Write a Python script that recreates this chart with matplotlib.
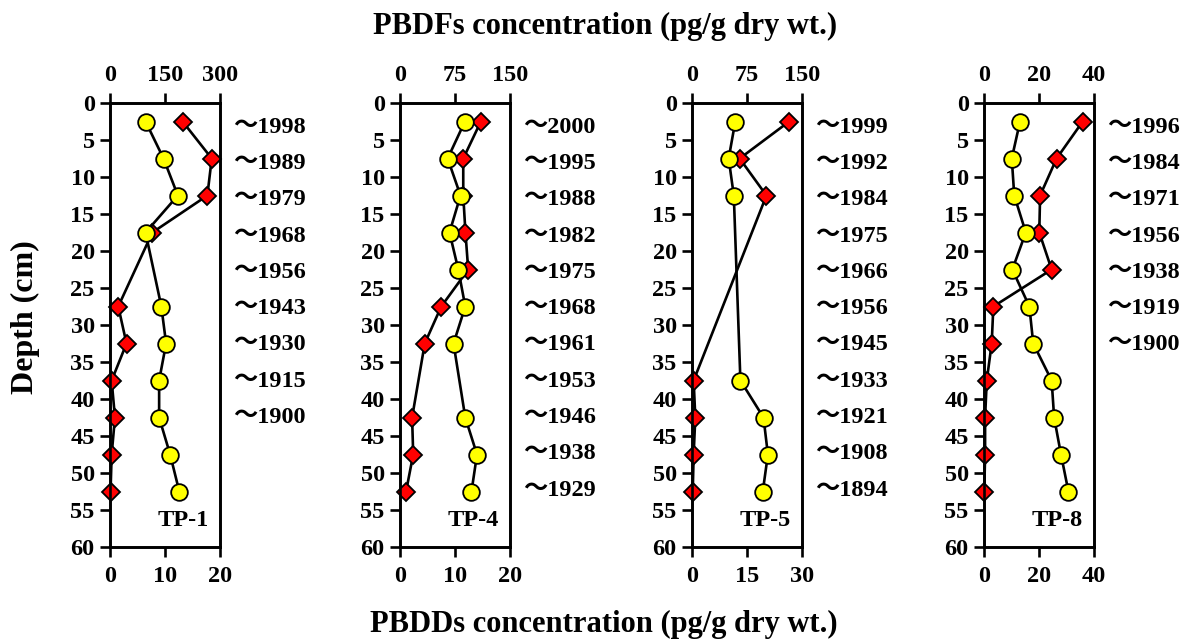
import matplotlib
matplotlib.use("Agg")
import matplotlib.pyplot as plt

plt.rcParams["font.family"] = ["Liberation Serif", "Noto Sans CJK JP"]
plt.rcParams["font.weight"] = "bold"

# ---- data (depth in cm, PBDDs on bottom axis, PBDFs on top axis) ----
tp1_depth = [2.5, 7.5, 12.5, 17.5, 27.5, 32.5, 37.5, 42.5, 47.5, 52.5]
tp1_pbdd = [13.2, 18.5, 17.7, 7.7, 1.5, 3.0, 0.3, 0.9, 0.3, 0.1]
tp1_pbdf = [97, 146, 185, 97, 140, 153, 134, 134, 164, 189]
tp1_years = [1998, 1989, 1979, 1968, 1956, 1943, 1930, 1915, 1900]

tp4_depth = [2.5, 7.5, 12.5, 17.5, 22.5, 27.5, 32.5, 42.5, 47.5, 52.5]
tp4_pbdd = [14.7, 11.5, 11.5, 11.9, 12.4, 7.5, 4.5, 2.2, 2.4, 1.1]
tp4_pbdf = [88.5, 65, 82.5, 67.5, 79.5, 89, 73, 89, 105, 97.5]
tp4_years = [2000, 1995, 1988, 1982, 1975, 1968, 1961, 1953, 1946, 1938, 1929]

tp5_depth = [2.5, 7.5, 12.5, 37.5, 42.5, 47.5, 52.5]
tp5_pbdd = [26.5, 13.0, 20.3, 0.45, 0.9, 0.45, 0.2]
tp5_pbdf = [59, 50, 57, 66, 97.5, 103.5, 96.5]
tp5_years = [1999, 1992, 1984, 1975, 1966, 1956, 1945, 1933, 1921, 1908, 1894]

tp8_depth = [2.5, 7.5, 12.5, 17.5, 22.5, 27.5, 32.5, 37.5, 42.5, 47.5, 52.5]
tp8_pbdd = [35.9, 26.4, 20.4, 20.1, 24.6, 3.4, 2.8, 1.0, 0.4, 0.4, 0.1]
tp8_pbdf = [13.1, 10.1, 11.0, 15.2, 10.3, 16.5, 17.9, 24.6, 25.5, 28.0, 30.7]
tp8_years = [1996, 1984, 1971, 1956, 1938, 1919, 1900]

site_names = ["TP-1", "TP-4", "TP-5", "TP-8"]
pbdd_max = [20, 20, 30, 40]
pbdf_max = [300, 150, 150, 40]

panels = [
    (tp1_depth, tp1_pbdd, tp1_pbdf, tp1_years),
    (tp4_depth, tp4_pbdd, tp4_pbdf, tp4_years),
    (tp5_depth, tp5_pbdd, tp5_pbdf, tp5_years),
    (tp8_depth, tp8_pbdd, tp8_pbdf, tp8_years),
]

W, H = 1184, 639
fig = plt.figure(figsize=(W / 100, H / 100), dpi=100)

lefts = [110, 400, 692, 984]
ax_w, ax_top, ax_bot = 110, 103, 547

TICK_FS = 17.5
LW = 1.9
for i, (depth, pbdd, pbdf, years) in enumerate(panels):
    ax = fig.add_axes([lefts[i] / W, 1 - ax_bot / H, ax_w / W, (ax_bot - ax_top) / H])
    ax.plot(pbdd, depth, color="black", lw=LW, marker="D", ms=9.5,
            mfc="#FF0000", mec="black", mew=1.3, zorder=3, clip_on=False)
    ax.set_ylim(60, 0)
    ax.set_xlim(0, pbdd_max[i])
    ax.set_xticks([0, pbdd_max[i] / 2, pbdd_max[i]])
    ax.set_yticks(range(0, 61, 5))
    ax.tick_params(axis="both", direction="out", length=7, width=LW,
                   labelsize=TICK_FS, pad=4)
    ax.tick_params(axis="x", pad=7)
    for s in ax.spines.values():
        s.set_linewidth(LW)

    ax2 = ax.twiny()
    ax2.plot(pbdf, depth, color="black", lw=LW, marker="o", ms=12,
             mfc="#FFFF00", mec="black", mew=1.3, zorder=3, clip_on=False)
    ax2.set_xlim(0, pbdf_max[i])
    ax2.set_xticks([0, pbdf_max[i] / 2, pbdf_max[i]])
    ax2.tick_params(axis="x", direction="out", length=7, width=LW,
                    labelsize=TICK_FS, pad=5)
    for s in ax2.spines.values():
        s.set_linewidth(LW)

    tr = ax.get_yaxis_transform()
    for k, yr in enumerate(years):
        ax.text(1.12, 3.3 + 4.9 * k, "～" + str(yr), transform=tr,
                ha="left", va="center", fontsize=17.5, fontweight="bold",
                clip_on=False)
    ax.text(0.9, 56.4, site_names[i], transform=tr, ha="right", va="center",
            fontsize=17.5, fontweight="bold")

fig.text(605 / W, 1 - 26 / H, "PBDFs concentration (pg/g dry wt.)",
         ha="center", va="center", fontsize=22, fontweight="bold")
fig.text(604 / W, 1 - 624 / H, "PBDDs concentration (pg/g dry wt.)",
         ha="center", va="center", fontsize=22, fontweight="bold")
fig.text(25 / W, 1 - 317 / H, "Depth (cm)", rotation=90,
         ha="center", va="center", fontsize=23, fontweight="bold")

fig.savefig("out.png", dpi=100, facecolor="white")
